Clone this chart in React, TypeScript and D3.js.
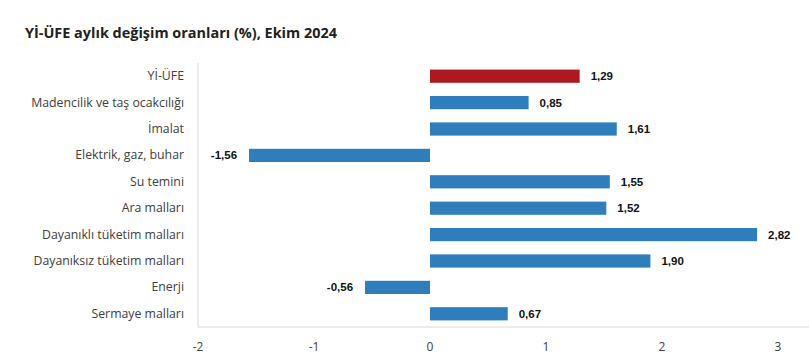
import React from "react";
import * as d3 from "d3";

const categories = [
  "Yİ-ÜFE",
  "Madencilik ve taş ocakcılığı",
  "İmalat",
  "Elektrik, gaz, buhar",
  "Su temini",
  "Ara malları",
  "Dayanıklı tüketim malları",
  "Dayanıksız tüketim malları",
  "Enerji",
  "Sermaye malları",
];
const values = [1.29, 0.85, 1.61, -1.56, 1.55, 1.52, 2.82, 1.9, -0.56, 0.67];
const tickValues = [-2, -1, 0, 1, 2, 3];
const title = "Yİ-ÜFE aylık değişim oranları (%), Ekim 2024";

const W = 809;
const H = 362;
const left = 198;
const top = 63;
const bottom = 327;

export default function App() {
  const x = d3.scaleLinear().domain([-2, 3]).range([left, left + 580]);
  const y = d3
    .scaleBand<string>()
    .domain(categories)
    .range([top, bottom])
    .paddingInner(0.5)
    .paddingOuter(0.25);
  const fmt = (v: number) => v.toFixed(2).replace(".", ",");
  return (
    <svg
      width={W}
      height={H}
      style={{ position: "absolute", left: 0, top: 0, background: "#fff" }}
    >
      <text
        x={25}
        y={38}
        fontFamily="'Open Sans', sans-serif"
        fontWeight={700}
        fontSize={14.5}
        textLength={312}
        lengthAdjust="spacingAndGlyphs"
        fill="#222"
      >
        {title}
      </text>
      <line x1={left} x2={left} y1={top} y2={bottom} stroke="#d9d9d9" />
      <line x1={left} x2={W} y1={bottom} y2={bottom} stroke="#d9d9d9" />
      {tickValues.map((t) => (
        <text
          key={t}
          x={x(t)}
          y={351}
          textAnchor="middle"
          fontFamily="'Open Sans', sans-serif"
          fontSize={12}
          fill="#404040"
        >
          {t}
        </text>
      ))}
      {categories.map((c, i) => {
        const v = values[i];
        const yy = y(c)!;
        const bw = y.bandwidth();
        const x0 = x(Math.min(0, v));
        const x1 = x(Math.max(0, v));
        const cy = yy + bw / 2;
        return (
          <g key={c}>
            <text
              x={184}
              y={cy + 4}
              textAnchor="end"
              fontFamily="'Open Sans', sans-serif"
              fontSize={12.3}
              fill="#404040"
            >
              {c}
            </text>
            <rect
              x={x0}
              y={yy}
              width={x1 - x0}
              height={bw}
              fill={i === 0 ? "#ae1820" : "#2f7dba"}
            />
            <text
              x={v >= 0 ? x1 + 11 : x0 - 12}
              y={cy + 4}
              textAnchor={v >= 0 ? "start" : "end"}
              fontFamily="'Liberation Sans', Arial, sans-serif"
              fontWeight={700}
              fontSize={11.5}
              fill="#111"
            >
              {fmt(v)}
            </text>
          </g>
        );
      })}
    </svg>
  );
}
